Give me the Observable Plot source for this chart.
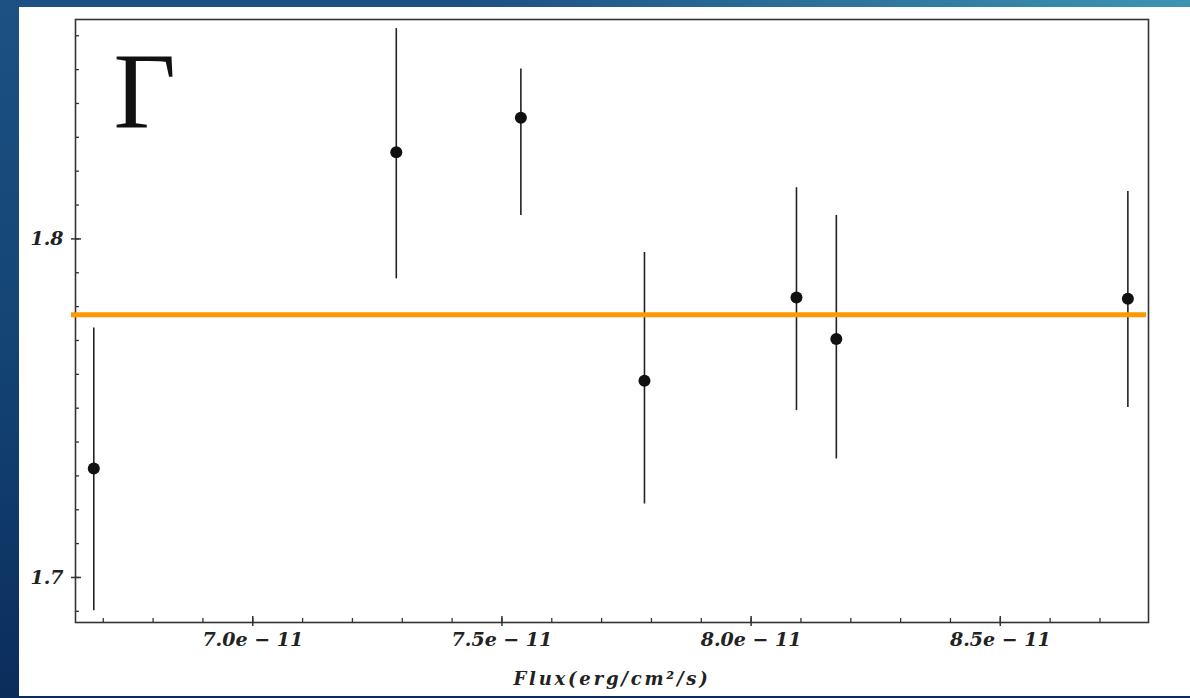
<!DOCTYPE html>
<html>
<head>
<meta charset="utf-8">
<script src="https://cdn.jsdelivr.net/npm/d3@7"></script>
<script src="https://cdn.jsdelivr.net/npm/@observablehq/plot@0.6"></script>
<style>
  html, body { margin: 0; padding: 0; }
  body {
    width: 1190px; height: 698px; overflow: hidden; position: relative;
    background:
      linear-gradient(to right, rgba(30,80,130,0) 0%, rgba(30,80,130,0) 40%, rgba(62,152,180,0.95) 100%) top / 100% 7px no-repeat,
      linear-gradient(to bottom, #1d5184 0%, #134474 50%, #0b2d5c 100%);
  }
  #panel { position: absolute; left: 19px; top: 7px; right: 0; bottom: 2px; background: #ffffff; }
  #chart { position: absolute; left: 0; top: 0; }
</style>
</head>
<body>
<div id="panel"></div>
<div id="chart"></div>
<script>
const fluxX     = [6.681e-11, 7.288e-11, 7.538e-11, 7.786e-11, 8.091e-11, 8.171e-11, 8.756e-11];
const gamma     = [1.7322, 1.8256, 1.8358, 1.7581, 1.7827, 1.7704, 1.7823];
const gammaHigh = [1.7737, 1.8621, 1.8502, 1.7960, 1.8151, 1.8069, 1.8140];
const gammaLow  = [1.6902, 1.7882, 1.8069, 1.7217, 1.7493, 1.7350, 1.7502];
const meanGamma = 1.7776;

const xTicks = [7.0e-11, 7.5e-11, 8.0e-11, 8.5e-11];
const xTickLabels = ["7.0e \u2212 11", "7.5e \u2212 11", "8.0e \u2212 11", "8.5e \u2212 11"];
const yTicks = [1.7, 1.8];
const yTickLabels = ["1.7", "1.8"];
const xMinorTicks = d3.range(67, 88).map(k => k * 1e-12);
const yMinorTicks = d3.range(169, 187).map(k => k / 100);
const xDomain = [6.6443e-11, 8.7974e-11];
const yDomain = [1.6867, 1.8648];
const xLabel = "Flux(erg/cm\u00B2/s)";
const panelLabel = "\u0393";

const rows = fluxX.map((x, i) => ({x, y: gamma[i], y1: gammaLow[i], y2: gammaHigh[i]}));
const xLabelMap = new Map(xTicks.map((t, i) => [t, xTickLabels[i]]));
const yLabelMap = new Map(yTicks.map((t, i) => [t, yTickLabels[i]]));

const W = 1190, H = 698, mL = 75, mR = 42, mT = 19, mB = 76;
const frameW = W - mL - mR, frameH = H - mT - mB;
const tickColor = "#333";
const tickFont = {fontFamily: "DejaVu Serif", fontSize: 19, fontStyle: "italic", fontWeight: "bold", fill: "#222"};

const chart = Plot.plot({
  width: W, height: H,
  marginLeft: mL, marginRight: mR, marginTop: mT, marginBottom: mB,
  style: {background: "transparent", overflow: "visible"},
  x: {domain: xDomain},
  y: {domain: yDomain},
  marks: [
    Plot.tickX(xMinorTicks, {x: d => d, insetTop: frameH - 4, stroke: tickColor, strokeWidth: 1.3}),
    Plot.tickY(yMinorTicks, {y: d => d, insetRight: frameW - 4, stroke: tickColor, strokeWidth: 1.3}),
    Plot.tickX(xTicks, {x: d => d, insetTop: frameH - 6, stroke: tickColor, strokeWidth: 1.5}),
    Plot.tickY(yTicks, {y: d => d, insetRight: frameW - 6, stroke: tickColor, strokeWidth: 1.5}),
    Plot.axisX(xTicks, {tickSize: 4, tickPadding: 6, tickFormat: d => xLabelMap.get(d), label: null, stroke: tickColor, strokeWidth: 1.5, ...tickFont}),
    Plot.axisY(yTicks, {tickSize: 4, tickPadding: 8, tickFormat: d => yLabelMap.get(d), label: null, stroke: tickColor, strokeWidth: 1.5, ...tickFont}),
    Plot.frame({stroke: "#333", strokeWidth: 1.6}),
    Plot.ruleX(rows, {x: "x", y1: "y1", y2: "y2", stroke: "#222", strokeWidth: 1.6}),
    Plot.ruleY([meanGamma], {stroke: "#ff9900", strokeWidth: 5, insetLeft: -4, insetRight: 2}),
    Plot.dot(rows, {x: "x", y: "y", r: 6, fill: "#111", stroke: "none"}),
    Plot.text([panelLabel], {frameAnchor: "top-left", text: d => d, dx: 38, dy: 31, textAnchor: "start", lineAnchor: "top", fontFamily: "Liberation Serif", fontSize: 108, fill: "#111"}),
    Plot.text([xLabel], {frameAnchor: "bottom", text: d => d, dy: 57, lineAnchor: "middle", fontFamily: "DejaVu Serif", fontSize: 18, fontStyle: "italic", fontWeight: "bold", fill: "#222"})
  ]
});
d3.select(chart).selectAll("text")
  .filter(function() { return this.textContent === xLabel; })
  .style("letter-spacing", "2.8px");
document.getElementById("chart").appendChild(chart);
</script>
</body>
</html>
